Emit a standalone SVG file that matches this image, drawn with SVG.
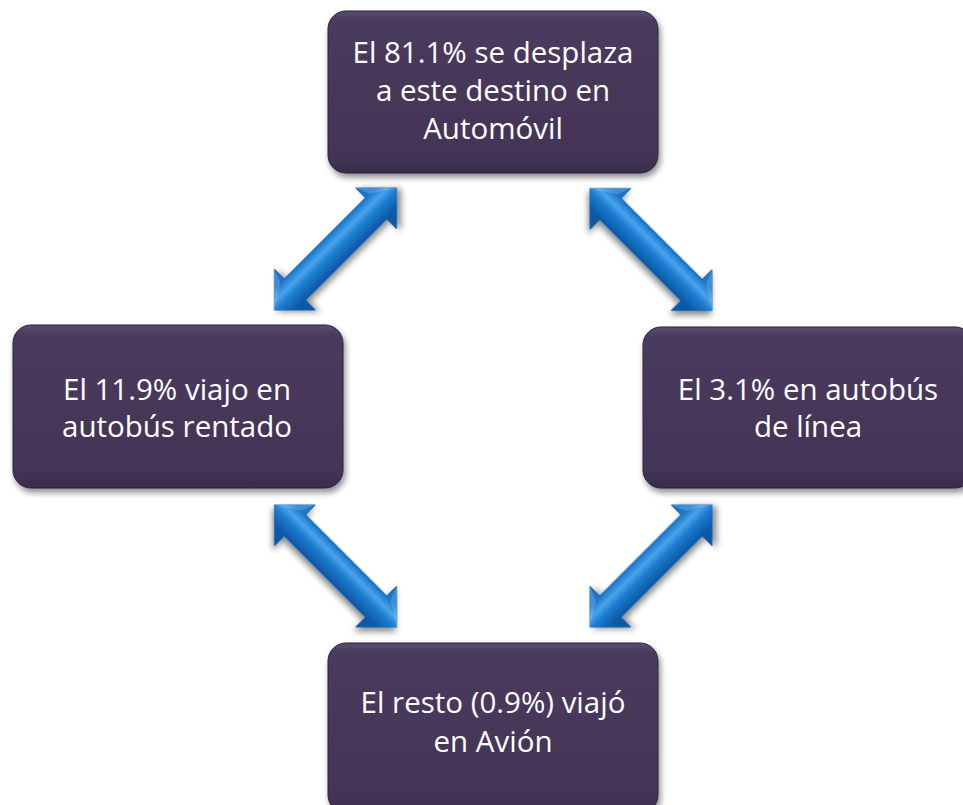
<svg xmlns="http://www.w3.org/2000/svg" width="963" height="805" viewBox="0 0 963 805">
  <defs>
    <linearGradient id="boxFill" x1="0" y1="0" x2="0" y2="1">
      <stop offset="0" stop-color="#5b4c6f"/>
      <stop offset="0.06" stop-color="#4a3b5e"/>
      <stop offset="0.9" stop-color="#433456"/>
      <stop offset="1" stop-color="#3a2c4b"/>
    </linearGradient>
    <linearGradient id="arrowFill" gradientUnits="userSpaceOnUse" x1="0" y1="-15" x2="0" y2="15">
      <stop offset="0" stop-color="#1a74c8"/>
      <stop offset="0.3" stop-color="#48a3ea"/>
      <stop offset="0.55" stop-color="#1d7dd2"/>
      <stop offset="1" stop-color="#0b58a4"/>
    </linearGradient>
    <filter id="shadow" x="-20%" y="-20%" width="140%" height="140%">
      <feDropShadow dx="2" dy="4" stdDeviation="3" flood-color="#000" flood-opacity="0.45"/>
    </filter>
    <path id="arrowShape" d="M-86.5,0 L-57.5,-29 L-57.5,-15 L57.5,-15 L57.5,-29 L86.5,0 L57.5,29 L57.5,15 L-57.5,15 L-57.5,29 Z"/>
  </defs>
  <style>
    .box { fill: url(#boxFill); stroke: #2f233d; stroke-width: 1; filter: url(#shadow); }
    .label { font-family: "Open Sans", "Liberation Sans", sans-serif; font-size: 29.5px; fill: #ffffff; text-anchor: middle; }
    .arrow { fill: url(#arrowFill); stroke: #0c5aa6; stroke-width: 0.8; filter: url(#shadow); }
    .facet { fill: #ffffff; opacity: 0.18; }
  </style>

  <g id="connectors">
    <g transform="translate(335.5,249) rotate(-45)">
      <use href="#arrowShape" class="arrow"/>
      <path class="facet" d="M86.5,0 L57.5,-29 L63,-15 Z"/>
      <path class="facet" d="M-86.5,0 L-57.5,-29 L-63,-15 Z"/>
    </g>
    <g transform="translate(651,249.5) rotate(45)">
      <use href="#arrowShape" class="arrow"/>
      <path class="facet" d="M86.5,0 L57.5,-29 L63,-15 Z"/>
      <path class="facet" d="M-86.5,0 L-57.5,-29 L-63,-15 Z"/>
    </g>
    <g transform="translate(335.5,566) rotate(45)">
      <use href="#arrowShape" class="arrow"/>
      <path class="facet" d="M86.5,0 L57.5,-29 L63,-15 Z"/>
      <path class="facet" d="M-86.5,0 L-57.5,-29 L-63,-15 Z"/>
    </g>
    <g transform="translate(651,566) rotate(-45)">
      <use href="#arrowShape" class="arrow"/>
      <path class="facet" d="M86.5,0 L57.5,-29 L63,-15 Z"/>
      <path class="facet" d="M-86.5,0 L-57.5,-29 L-63,-15 Z"/>
    </g>
  </g>

  <g id="node-top">
    <rect class="box" x="328" y="11" width="330" height="162" rx="18" ry="18"/>
    <text class="label" x="493" y="63">El 81.1% se desplaza</text>
    <text class="label" x="493" y="101">a este destino en</text>
    <text class="label" x="493" y="139">Automóvil</text>
  </g>

  <g id="node-left">
    <rect class="box" x="13" y="325" width="330" height="163" rx="18" ry="18"/>
    <text class="label" x="177" y="400">El 11.9% viajo en</text>
    <text class="label" x="177" y="437">autobús rentado</text>
  </g>

  <g id="node-right">
    <rect class="box" x="643" y="327" width="330" height="161" rx="18" ry="18"/>
    <text class="label" x="808" y="400">El 3.1% en autobús</text>
    <text class="label" x="808" y="437">de línea</text>
  </g>

  <g id="node-bottom">
    <rect class="box" x="328" y="643" width="330" height="170" rx="18" ry="18"/>
    <text class="label" x="493" y="713">El resto (0.9%) viajó</text>
    <text class="label" x="493" y="752">en Avión</text>
  </g>
</svg>
